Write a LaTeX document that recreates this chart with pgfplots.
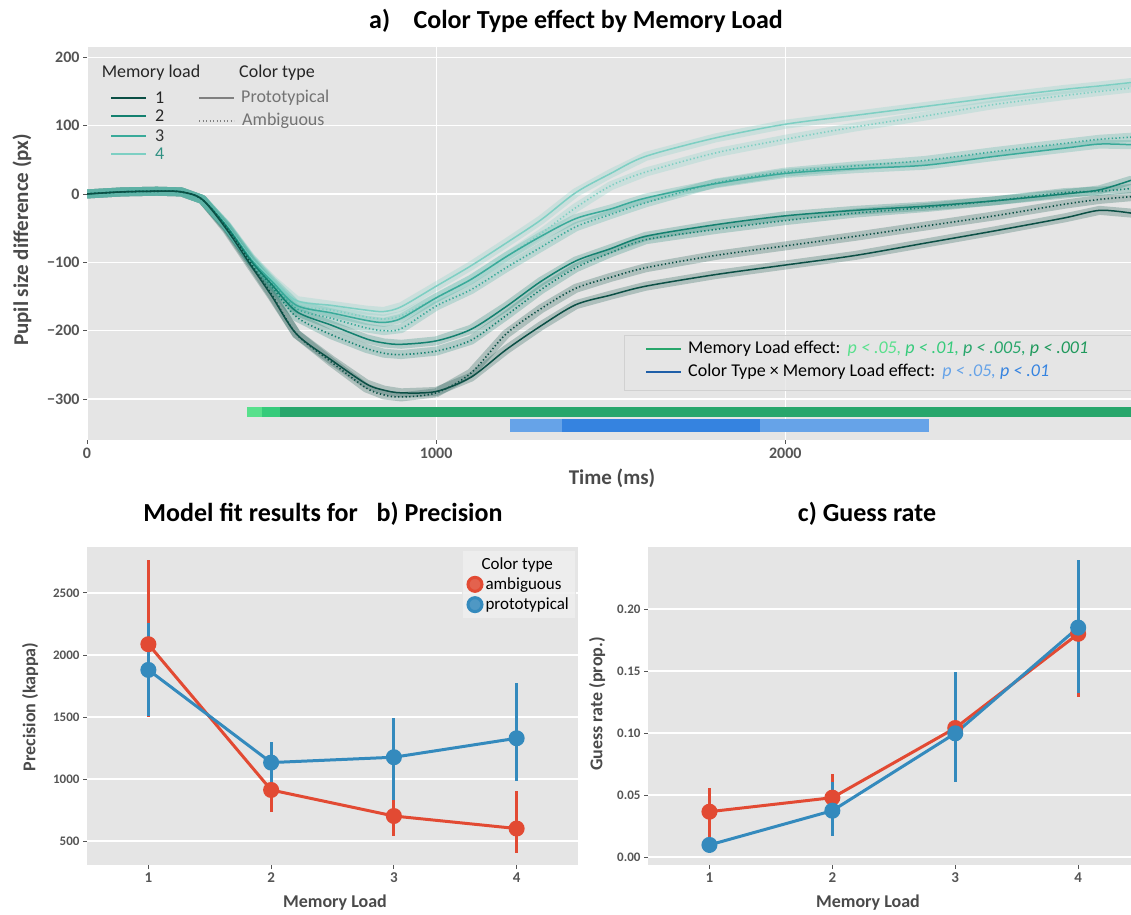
\documentclass[border=0pt]{standalone}
\usepackage{pgfplots}
\usepackage{pgfplotstable}
\pgfplotsset{compat=1.18}
\usepackage{fontspec}
\setmainfont{Carlito}
\definecolor{bg}{HTML}{E5E5E5}
\definecolor{lA}{HTML}{0B4F45}
\definecolor{lB}{HTML}{13806F}
\definecolor{lC}{HTML}{3AAA9A}
\definecolor{lD}{HTML}{7DCFC3}
\definecolor{gA}{HTML}{58E08C}
\definecolor{gB}{HTML}{36CB7B}
\definecolor{gC}{HTML}{28A66B}
\definecolor{gD}{HTML}{20995C}
\definecolor{bA}{HTML}{66A3E8}
\definecolor{bB}{HTML}{3583E0}
\definecolor{bD}{HTML}{1F5FA8}
\definecolor{rd}{HTML}{E24A33}
\definecolor{bl}{HTML}{348ABD}
\definecolor{tk}{HTML}{555555}
\definecolor{lab}{HTML}{4A4A4A}

\pgfplotstableread{
t p1 a1 p2 a2 p3 a3 p4 a4
0 0 0 0 0 0 0 0 0
100 3 3 3 3 3 3 3 3
200 4 4 4 4 4 4 4 4
270 3 3 3 3 3 3 3 3
330 -8 -8 -8 -8 -8 -8 -8 -8
400 -52 -50 -48 -48 -47 -47 -46 -46
470 -105 -102 -98 -98 -96 -96 -94 -94
530 -150 -148 -133 -136 -128 -130 -125 -127
600 -205 -205 -172 -180 -163 -168 -156 -162
700 -243 -246 -192 -206 -174 -182 -163 -170
800 -278 -284 -212 -226 -185 -196 -170 -180
850 -287 -294 -218 -233 -188 -200 -172 -183
900 -291 -297 -220 -235 -182 -197 -165 -178
1000 -289 -291 -215 -230 -152 -164 -135 -152
1100 -268 -262 -198 -214 -125 -140 -105 -125
1200 -228 -205 -165 -178 -92 -108 -72 -92
1300 -193 -168 -128 -140 -62 -78 -38 -58
1400 -162 -138 -98 -108 -36 -48 2 -20
1500 -148 -122 -80 -86 -22 -30 30 12
1600 -135 -108 -62 -67 -6 -13 55 32
1800 -118 -90 -45 -52 15 16 82 60
2000 -104 -76 -32 -39 30 32 102 80
2200 -90 -62 -24 -28 37 41 115 98
2400 -72 -47 -18 -20 42 49 128 114
2600 -54 -32 -10 -10 55 62 141 131
2800 -35 -15 0 2 67 74 153 144
2900 -24 -8 6 4 73 80 158 150
2990 -28 -4 20 8 72 83 163 155
}\curves

\pgfplotsset{
  ggstyle/.style={
    scale only axis,
    axis x line*=bottom, axis y line*=left,
    xtick pos=left, ytick pos=left,
    axis background/.style={fill=bg},
    axis line style={draw=none},
    major grid style={white, line width=1.3pt},
    tick style={tk, line width=0.8pt},
    tick align=outside,
    major tick length=4pt,
    /pgf/number format/assume math mode=true,
    clip=true,
  },
  band/.style={#1, opacity=0.25, line width=9pt, line join=round, line cap=round, forget plot},
  solidc/.style={#1, line width=1.5pt, smooth, forget plot},
  dotc/.style={#1, line width=1.6pt, dash pattern=on 1.3pt off 2.4pt, smooth, forget plot},
}

\begin{document}
\begin{tikzpicture}
\useasboundingbox (0,0) rectangle (1131pt,914pt);

% ---------------- a) ----------------
\begin{axis}[ggstyle, at={(87pt,474pt)}, anchor=south west,
  width=1044pt, height=393pt,
  xmin=0, xmax=2990, ymin=-360, ymax=215,
  xtick={0,1000,2000}, xticklabels={0,1000,2000},
  ytick={-300,-200,-100,0,100,200},
  yticklabels={−300,−200,−100,0,100,200},
  xmajorgrids, ymajorgrids,
  tick label style={font=\bfseries\fontsize{16}{16}\selectfont, text=tk},
]
\addplot[band=lA] table[x=t,y=p1]{\curves};
\addplot[band=lA] table[x=t,y=a1]{\curves};
\addplot[band=lB] table[x=t,y=p2]{\curves};
\addplot[band=lB] table[x=t,y=a2]{\curves};
\addplot[band=lC] table[x=t,y=p3]{\curves};
\addplot[band=lC] table[x=t,y=a3]{\curves};
\addplot[band=lD] table[x=t,y=p4]{\curves};
\addplot[band=lD] table[x=t,y=a4]{\curves};
\addplot[dotc=lD] table[x=t,y=a4]{\curves};
\addplot[solidc=lD] table[x=t,y=p4]{\curves};
\addplot[dotc=lC] table[x=t,y=a3]{\curves};
\addplot[solidc=lC] table[x=t,y=p3]{\curves};
\addplot[dotc=lB] table[x=t,y=a2]{\curves};
\addplot[solidc=lB] table[x=t,y=p2]{\curves};
\addplot[dotc=lA] table[x=t,y=a1]{\curves};
\addplot[solidc=lA] table[x=t,y=p1]{\curves};
% significance bars
\addplot[fill=gA, draw=none] coordinates {(458,-311) (501,-311) (501,-327) (458,-327)} --cycle;
\addplot[fill=gB, draw=none] coordinates {(501,-311) (553,-311) (553,-327) (501,-327)} --cycle;
\addplot[fill=gC, draw=none] coordinates {(553,-311) (2990,-311) (2990,-327) (553,-327)} --cycle;
\addplot[fill=bA, draw=none] coordinates {(1212,-330) (1361,-330) (1361,-348) (1212,-348)} --cycle;
\addplot[fill=bB, draw=none] coordinates {(1361,-330) (1928,-330) (1928,-348) (1361,-348)} --cycle;
\addplot[fill=bA, draw=none] coordinates {(1928,-330) (2410,-330) (2410,-348) (1928,-348)} --cycle;
\end{axis}

% ---------------- b) ----------------
\begin{axis}[ggstyle, at={(87pt,49pt)}, anchor=south west,
  width=491pt, height=318pt,
  xmin=0.5, xmax=4.5, ymin=306, ymax=2870,
  xtick={1,2,3,4}, ytick={500,1000,1500,2000,2500},
  yticklabels={500,1000,1500,2000,2500},
  ymajorgrids,
  xticklabel style={font=\bfseries\fontsize{15}{15}\selectfont, text=tk},
  yticklabel style={font=\bfseries\fontsize{13}{13}\selectfont, text=tk},
  legend style={at={(0.994,0.99)}, anchor=north east, fill=bg!60!white, fill opacity=0.85, text opacity=1,
    draw=black!10, font=\fontsize{17}{17}\selectfont, row sep=3pt, inner xsep=4pt, inner ysep=5pt,
    nodes={inner xsep=2pt}},
  legend cell align=left,
]
\addlegendimage{empty legend}
\addlegendentry{\hspace*{-4pt}Color type}
\addplot[rd, line width=3pt, mark=*, mark size=6.5pt, mark options={draw=none, fill=rd},
  legend image code/.code={\fill[rd] (0.3cm,0cm) circle (7pt);},
  error bars/.cd, y dir=both, y explicit, error mark=none, error bar style={line width=3pt, rd}]
  coordinates {(1,2086) += (0,680) -= (0,584)
               (2,911) += (0,190) -= (0,175)
               (3,701) += (0,197) -= (0,161)
               (4,600) += (0,300) -= (0,200)};
\addlegendentry{ambiguous}
\addplot[bl, line width=3pt, mark=*, mark size=6.5pt, mark options={draw=none, fill=bl},
  legend image code/.code={\fill[bl] (0.3cm,0cm) circle (7pt);},
  error bars/.cd, y dir=both, y explicit, error mark=none, error bar style={line width=3pt, bl}]
  coordinates {(1,1879) += (0,377) -= (0,370)
               (2,1132) += (0,169) -= (0,194)
               (3,1175) += (0,314) -= (0,345)
               (4,1328) += (0,449) -= (0,342)};
\addlegendentry{prototypical}
\end{axis}

% ---------------- c) ----------------
\begin{axis}[ggstyle, at={(648pt,49pt)}, anchor=south west,
  width=483pt, height=318pt,
  xmin=0.5, xmax=4.43, ymin=-0.0065, ymax=0.25,
  xtick={1,2,3,4}, ytick={0,0.05,0.1,0.15,0.2},
  yticklabels={0.00,0.05,0.10,0.15,0.20},
  ymajorgrids,
  xticklabel style={font=\bfseries\fontsize{15}{15}\selectfont, text=tk},
  yticklabel style={font=\bfseries\fontsize{13}{13}\selectfont, text=tk},
]
\addplot[rd, line width=3pt, mark=*, mark size=6.5pt, mark options={draw=none, fill=rd},
  error bars/.cd, y dir=both, y explicit, error mark=none, error bar style={line width=3pt, rd}]
  coordinates {(1,0.0365) += (0,0.019) -= (0,0.021)
               (2,0.0478) += (0,0.019) -= (0,0.017)
               (3,0.104) += (0,0.035) -= (0,0.035)
               (4,0.180) += (0,0.055) -= (0,0.051)};
\addplot[bl, line width=3pt, mark=*, mark size=6.5pt, mark options={draw=none, fill=bl},
  error bars/.cd, y dir=both, y explicit, error mark=none, error bar style={line width=3pt, bl}]
  coordinates {(1,0.0097) += (0,0.0067) -= (0,0.0067)
               (2,0.0373) += (0,0.0234) -= (0,0.0203)
               (3,0.0997) += (0,0.0493) -= (0,0.039)
               (4,0.185) += (0,0.0545) -= (0,0.053)};
\end{axis}

% cover any far-side tick stubs
\fill[white] (80pt,867.7pt) rectangle (1131pt,873pt);
\fill[white] (80pt,367.7pt) rectangle (1131pt,373pt);
\fill[white] (578.7pt,45pt) rectangle (584pt,373pt);

% ---------------- titles and labels ----------------
\node[font=\bfseries\fontsize{26}{26}\selectfont] at (576pt,893pt) {a)\hspace{0.9em}Color Type effect by Memory Load};
\node[font=\bfseries\fontsize{26}{26}\selectfont] at (323pt,400pt) {Model fit results for\hspace{0.5em} b) Precision};
\node[font=\bfseries\fontsize{26}{26}\selectfont] at (867pt,400pt) {c) Guess rate};
\node[font=\bfseries\fontsize{21}{21}\selectfont, text=lab, rotate=90] at (22pt,674pt) {Pupil size difference (px)};
\node[font=\bfseries\fontsize{21}{21}\selectfont, text=lab] at (612pt,436pt) {Time (ms)};
\node[font=\bfseries\fontsize{18}{18}\selectfont, text=lab, rotate=90] at (30pt,207pt) {Precision (kappa)};
\node[font=\bfseries\fontsize{18}{18}\selectfont, text=lab] at (335pt,11pt) {Memory Load};
\node[font=\bfseries\fontsize{18}{18}\selectfont, text=lab, rotate=90] at (597pt,210pt) {Guess rate (prop.)};
\node[font=\bfseries\fontsize{18}{18}\selectfont, text=lab] at (868pt,11pt) {Memory Load};

% ---------------- a) legend top-left ----------------
\node[font=\fontsize{18}{18}\selectfont, text=black!85] at (151pt,841pt) {Memory load};
\node[font=\fontsize{18}{18}\selectfont, text=black!85] at (277pt,841pt) {Color type};
\draw[lA, line width=2.6pt] (111pt,816pt) -- (146pt,816pt);
\draw[lB, line width=2.6pt] (111pt,798pt) -- (146pt,798pt);
\draw[lC, line width=1.6pt] (111pt,778pt) -- (146pt,778pt);
\draw[lD, line width=1.6pt] (111pt,760pt) -- (146pt,760pt);
\node[anchor=west, inner sep=0pt, font=\fontsize{18}{18}\selectfont, text=black!85] at (155pt,816pt) {1};
\node[anchor=west, inner sep=0pt, font=\fontsize{18}{18}\selectfont, text=black!85] at (155pt,798pt) {2};
\node[anchor=west, inner sep=0pt, font=\fontsize{18}{18}\selectfont, text=black!80] at (155pt,778pt) {3};
\node[anchor=west, inner sep=0pt, font=\fontsize{18}{18}\selectfont, text=lC!85!black] at (155pt,760pt) {4};
\draw[black!50, line width=1.3pt] (199pt,816pt) -- (234pt,816pt);
\draw[black!50, line width=1.4pt, dash pattern=on 1.3pt off 2.2pt] (199pt,793pt) -- (234pt,793pt);
\node[anchor=west, inner sep=0pt, font=\fontsize{18}{18}\selectfont, text=black!55] at (241pt,816pt) {Prototypical};
\node[anchor=west, inner sep=0pt, font=\fontsize{18}{18}\selectfont, text=black!55] at (242pt,793pt) {Ambiguous};

% ---------------- a) legend bottom-right ----------------
\fill[bg, opacity=0.75] (624pt,524pt) rectangle (1131pt,579pt);
\draw[black!18, line width=0.8pt] (1131pt,579pt) -- (624pt,579pt) -- (624pt,524pt) -- (1131pt,524pt);
\draw[gC, line width=2.6pt] (646pt,565pt) -- (681pt,565pt);
\draw[bD, line width=2.6pt] (646pt,542pt) -- (681pt,542pt);
\node[anchor=west, inner sep=0pt, font=\fontsize{18}{18}\selectfont] at (688pt,565pt)
  {Memory Load effect:\hspace{0.4em}{\itshape\textcolor{gA}{p < .05,} \textcolor{gB}{p < .01,} \textcolor{gC}{p < .005,} \textcolor{gD}{p < .001}}};
\node[anchor=west, inner sep=0pt, font=\fontsize{18}{18}\selectfont] at (688pt,542pt)
  {Color Type × Memory Load effect:\hspace{0.4em}{\itshape\textcolor{bA}{p < .05,} \textcolor{bB}{p < .01}}};
\end{tikzpicture}
\end{document}
